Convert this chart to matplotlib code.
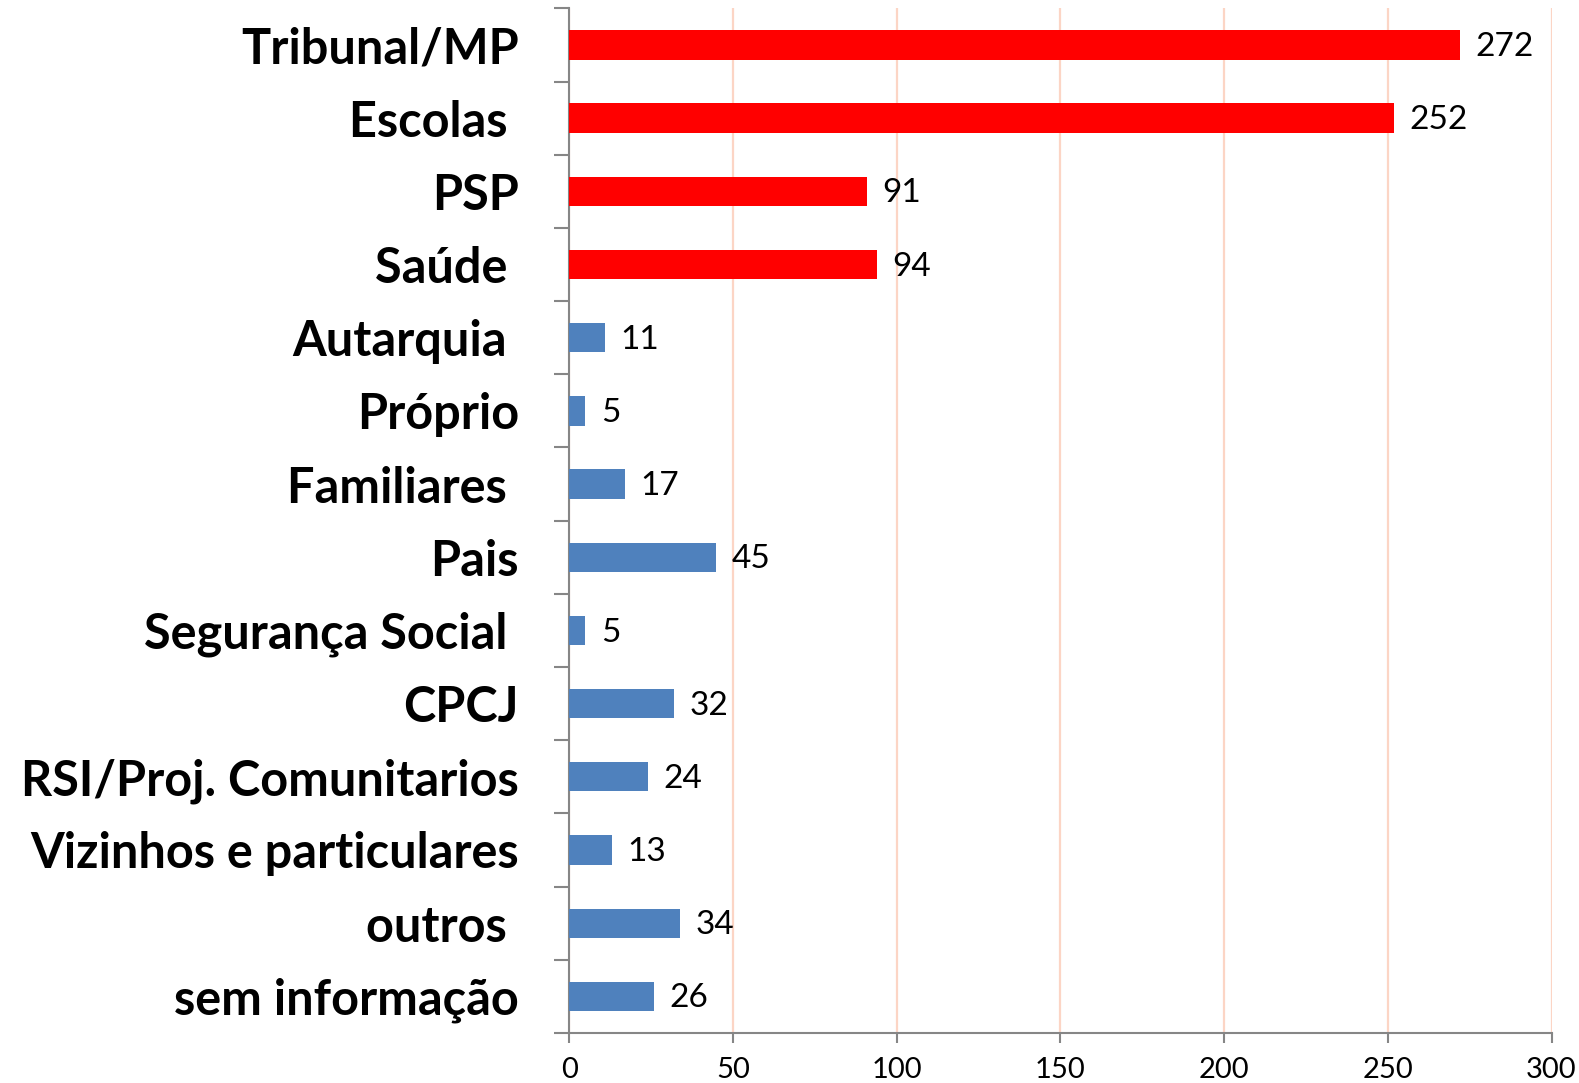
import numpy as np
import matplotlib.pyplot as plt

plt.rcParams["font.family"] = ["Lato", "DejaVu Sans"]

# Categories top to bottom (trailing spaces are in the source labels)
categories = ["Tribunal/MP", "Escolas ", "PSP", "Saúde ", "Autarquia ", "Próprio",
              "Familiares ", "Pais", "Segurança Social ", "CPCJ",
              "RSI/Proj. Comunitarios", "Vizinhos e particulares", "outros ",
              "sem informação"]
values = [272, 252, 91, 94, 11, 5, 17, 45, 5, 32, 24, 13, 34, 26]
highlight = [True, True, True, True] + [False] * 10

RED = "#FF0000"
BLUE = "#4F81BD"
AXIS = "#868686"
GRID = "#FCD5C5"

fig = plt.figure(figsize=(15.79, 10.83), dpi=100)
ax = fig.add_axes([0.3604, 0.0462, 0.9826 - 0.3604, 0.9923 - 0.0462])

ys = np.arange(len(categories))
colors = [RED if h else BLUE for h in highlight]
ax.barh(ys, values, height=0.4, color=colors, zorder=3)

for y, v in zip(ys, values):
    ax.annotate(str(v), xy=(v, y), xytext=(11, -1.5), textcoords="offset points",
                va="center", ha="left", fontsize=24, color="black")

ax.set_xlim(0, 300)
ax.set_ylim(len(categories) - 0.5, -0.5)
ax.set_xticks(np.arange(0, 301, 50))
ax.tick_params(axis="x", labelsize=21, length=7, width=1.5, color=AXIS, pad=10)
ax.xaxis.grid(True, color=GRID, lw=1.6, zorder=0)

# labels at category centres, tick marks at category boundaries
ax.set_yticks(ys)
ax.set_yticklabels(categories, fontsize=35, fontweight="bold")
ax.tick_params(axis="y", which="major", length=0, pad=36)
ax.set_yticks(np.arange(-0.5, len(categories), 1), minor=True)
ax.tick_params(axis="y", which="minor", length=11, width=1.5, color=AXIS)

for side in ("top", "right"):
    ax.spines[side].set_visible(False)
for side in ("left", "bottom"):
    ax.spines[side].set_color(AXIS)
    ax.spines[side].set_linewidth(1.5)

fig.savefig("out.png", dpi=100)
